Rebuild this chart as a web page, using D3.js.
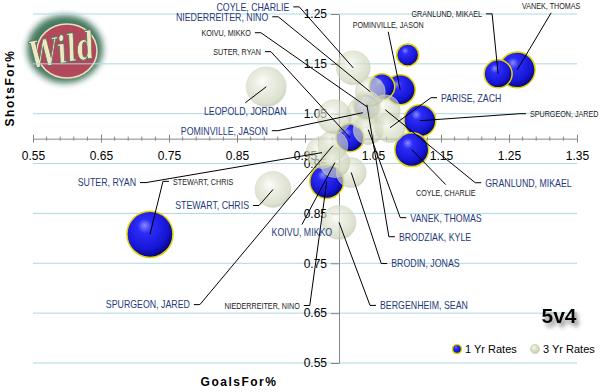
<!DOCTYPE html>
<html>
<head>
<meta charset="utf-8">
<script src="https://cdn.jsdelivr.net/npm/d3@7"></script>
<style>
body { margin: 0; background: #fff; }
svg { display: block; font-family: "Liberation Sans", Arial, sans-serif; }
</style>
</head>
<body>
<div id="chart"></div>
<script>
// 5v4 GoalsFor% vs ShotsFor% -- 1 yr and 3 yr rates

var xTicks = [0.55, 0.65, 0.75, 0.85, 0.95, 1.05, 1.15, 1.25, 1.35];
var yTicks = [0.55, 0.65, 0.75, 0.85, 0.95, 1.05, 1.15, 1.25];

// 1 Yr Rates
var names1 = ["VANEK, THOMAS", "GRANLUND, MIKAEL", "POMINVILLE, JASON", "SPURGEON, JARED", "COYLE, CHARLIE",
  "KOIVU, MIKKO", "SUTER, RYAN", "STEWART, CHRIS", "NIEDERREITER, NINO", "unlabelled a", "unlabelled b"];
var goals1 = [1.262, 1.234, 1.090, 1.119, 1.107, 1.041, 1.016, 0.722, 0.982, 1.101, 1.063];
var shots1 = [1.138, 1.130, 1.098, 1.036, 0.978, 1.064, 1.002, 0.808, 0.914, 1.168, 1.104];
var size1  = [56, 34, 39, 44, 50, 29, 34, 92, 50, 21, 29];

// 3 Yr Rates
var names3 = ["LEOPOLD, JORDAN", "STEWART, CHRIS", "BERGENHEIM, SEAN", "COYLE, CHARLIE", "BRODIN, JONAS",
  "SUTER, RYAN", "SPURGEON, JARED", "KOIVU, MIKKO", "POMINVILLE, JASON", "VANEK, THOMAS",
  "BRODZIAK, KYLE", "GRANLUND, MIKAEL", "PARISE, ZACH", "NIEDERREITER, NINO", "unlabelled c"];
var goals3 = [0.893, 0.903, 1.000, 1.021, 1.018, 0.975, 0.991, 0.994, 1.035, 1.043, 1.041, 1.068, 1.075, 1.046, 0.993];
var shots3 = [1.104, 0.898, 0.832, 1.142, 0.932, 0.972, 0.986, 0.952, 1.052, 1.018, 1.068, 1.058, 1.022, 1.094, 1.044];
var size3  = [69, 56, 50, 50, 39, 44, 39, 39, 44, 39, 34, 39, 39, 39, 50];

// label placement: offset from the bubble centre (px) and text anchor
var place1 = {
  "VANEK, THOMAS": [34, -64, "middle"], "GRANLUND, MIKAEL": [-16, -60, "end"],
  "POMINVILLE, JASON": [-12, -65, "middle"], "SPURGEON, JARED": [110, -7, "start"],
  "COYLE, CHARLIE": [34, 43, "middle"], "KOIVU, MIKKO": [-116, -74, "end"],
  "SUTER, RYAN": [-89, -86, "end"], "STEWART, CHRIS": [23, -53, "start"],
  "NIEDERREITER, NINO": [-27, 124, "end"]
};
var place3 = {
  "COYLE, CHARLIE": [-64, -61, "end"], "NIEDERREITER, NINO": [-102, -75, "end"],
  "LEOPOLD, JORDAN": [-21, 24, "middle"], "POMINVILLE, JASON": [-95, 18, "end"],
  "PARISE, ZACH": [51, -30, "start"], "GRANLUND, MIKAEL": [100, 73, "start"],
  "SPURGEON, JARED": [-143, 159, "end"], "SUTER, RYAN": [-186, 30, "end"],
  "STEWART, CHRIS": [-24, 16, "end"], "KOIVU, MIKKO": [-33, 70, "middle"],
  "VANEK, THOMAS": [42, 88, "start"], "BRODZIAK, KYLE": [32, 132, "start"],
  "BRODIN, JONAS": [40, 91, "start"], "BERGENHEIM, SEAN": [41, 83, "start"]
};

var w = 603;
var h = 392;

var x = d3.scaleLinear().domain([0.55, 1.35]).range([33, 577]);
var y = d3.scaleLinear().domain([0.55, 1.25]).range([363, 14]);
var r = d3.scaleSqrt().domain([0, 100]).range([0, 24]);

var svg = d3.select("#chart")
  .append("svg")
  .attr("width", w)
  .attr("height", h);

var defs = svg.append("defs");

var gBlue = defs.append("radialGradient").attr("id", "blueBall")
  .attr("cx", "42%").attr("cy", "38%").attr("r", "62%").attr("fx", "38%").attr("fy", "30%");
gBlue.append("stop").attr("offset", "0%").attr("stop-color", "#8a8aff");
gBlue.append("stop").attr("offset", "25%").attr("stop-color", "#2c2cf8");
gBlue.append("stop").attr("offset", "75%").attr("stop-color", "#1616d6");
gBlue.append("stop").attr("offset", "100%").attr("stop-color", "#06067e");

var gGrey = defs.append("radialGradient").attr("id", "greyBall")
  .attr("cx", "45%").attr("cy", "42%").attr("r", "60%").attr("fx", "40%").attr("fy", "35%");
gGrey.append("stop").attr("offset", "0%").attr("stop-color", "#fbfcf6");
gGrey.append("stop").attr("offset", "35%").attr("stop-color", "#e2e6d4");
gGrey.append("stop").attr("offset", "85%").attr("stop-color", "#cbd2b8");
gGrey.append("stop").attr("offset", "100%").attr("stop-color", "#b3bb9c");

var shadow = defs.append("filter").attr("id", "shadow")
  .attr("x", "-30%").attr("y", "-30%").attr("width", "160%").attr("height", "160%");
shadow.append("feDropShadow").attr("dx", 3).attr("dy", 4).attr("stdDeviation", 2)
  .attr("flood-color", "#555").attr("flood-opacity", 0.7);

var soft = defs.append("filter").attr("id", "soft")
  .attr("x", "-30%").attr("y", "-30%").attr("width", "160%").attr("height", "160%");
soft.append("feGaussianBlur").attr("stdDeviation", 3);

// logo (rough)
var logo = svg.append("g").attr("opacity", 0.82);
logo.append("ellipse").attr("cx", 65).attr("cy", 49).attr("rx", 38).attr("ry", 34)
  .style("fill", "#1f5b3c").attr("filter", "url(#soft)");
logo.append("ellipse").attr("cx", 67).attr("cy", 51).attr("rx", 30).attr("ry", 27)
  .style("fill", "#a3213a").style("stroke", "#e6dcb0").style("stroke-width", 1.5);
logo.append("text")
  .attr("text-anchor", "middle")
  .attr("transform", "translate(64,63) rotate(-10) scale(0.85,1.25)")
  .style("font-family", "'DejaVu Serif', serif")
  .style("font-style", "italic").style("font-weight", "bold")
  .style("font-size", "30px")
  .style("fill", "#efe4b6").style("stroke", "#2c5a3c").style("stroke-width", 0.8)
  .text("Wild");

// gridlines
svg.append("g").selectAll("line")
  .data(yTicks)
  .enter()
  .append("line")
  .attr("x1", x(0.55)).attr("x2", x(1.35))
  .attr("y1", function(d) { return y(d); })
  .attr("y2", function(d) { return y(d); })
  .style("stroke", "#acd9e3")
  .style("stroke-width", 1);

// x axis crosses at 1.0
var xAxis = svg.append("g")
  .attr("transform", "translate(0," + y(1.0) + ")")
  .call(d3.axisBottom(x).tickValues(xTicks).tickSizeInner(4).tickSizeOuter(0).tickPadding(9)
    .tickFormat(d3.format(".2f")));
xAxis.selectAll(".tick line").attr("y1", -4).attr("y2", 4);

var minor = d3.range(0.57, 1.35, 0.02).filter(function(v) {
  return Math.abs(((v - 0.55) / 0.1) - Math.round((v - 0.55) / 0.1)) > 0.01;
});
xAxis.selectAll(".minor")
  .data(minor)
  .enter()
  .append("line")
  .attr("x1", function(d) { return x(d); })
  .attr("x2", function(d) { return x(d); })
  .attr("y1", -2).attr("y2", 2)
  .style("stroke", "#868686");

// y axis crosses at 1.0
var yAxis = svg.append("g")
  .attr("transform", "translate(" + x(1.0) + ",0)")
  .call(d3.axisLeft(y).tickValues(yTicks).tickSizeInner(8).tickSizeOuter(0).tickPadding(4)
    .tickFormat(d3.format(".2f")));

svg.selectAll(".domain, .tick line").style("stroke", "#868686");
svg.selectAll(".tick text").style("font-size", "12px").style("fill", "#000")
  .style("font-family", "'Liberation Sans', Arial, sans-serif");

// axis titles
svg.append("text")
  .attr("x", 239).attr("y", 386)
  .attr("text-anchor", "middle")
  .style("font-weight", "bold").style("font-size", "12px").style("letter-spacing", "1.5px")
  .text("GoalsFor%");

svg.append("text")
  .attr("transform", "translate(14,88) rotate(-90)")
  .attr("text-anchor", "middle")
  .style("font-weight", "bold").style("font-size", "12px").style("letter-spacing", "1.5px")
  .text("ShotsFor%");

// bubbles
var one = names1.map(function(n, i) { return { name: n, gx: goals1[i], sy: shots1[i], s: size1[i] }; });
var three = names3.map(function(n, i) { return { name: n, gx: goals3[i], sy: shots3[i], s: size3[i] }; });

svg.append("g").selectAll("circle")
  .data(one)
  .enter()
  .append("circle")
  .attr("cx", function(d) { return x(d.gx); })
  .attr("cy", function(d) { return y(d.sy); })
  .attr("r", function(d) { return r(d.s); })
  .style("fill", "url(#blueBall)")
  .style("stroke", "#e3d400")
  .style("stroke-width", 1.5);

svg.append("g").selectAll("circle")
  .data(three)
  .enter()
  .append("circle")
  .attr("cx", function(d) { return x(d.gx); })
  .attr("cy", function(d) { return y(d.sy); })
  .attr("r", function(d) { return r(d.s); })
  .style("fill", "url(#greyBall)")
  .style("fill-opacity", 0.66)
  .style("stroke", "#d0d6c2")
  .style("stroke-opacity", 0.5);

// data labels with leader lines (text squeezed to mimic a narrow face)
function drawLabels(data, place, colour, size) {
  var g = svg.append("g");
  data.forEach(function(d) {
    var p = place[d.name];
    if (!p) return;
    var cx = x(d.gx), cy = y(d.sy);
    var tx = cx + p[0], ty = cy + p[1];
    var pts;
    if (p[2] === "end") {
      pts = [[tx + 4, ty], [tx + 10, ty], [cx, cy]];
    } else if (p[2] === "start") {
      pts = [[tx - 4, ty], [tx - 10, ty], [cx, cy]];
    } else {
      var ay = cy > ty ? ty + 7 : ty - 8;
      pts = [[tx, ay], [cx, cy]];
    }
    g.append("path")
      .attr("d", d3.line()(pts))
      .style("fill", "none")
      .style("stroke", "#000")
      .style("stroke-width", 1);
    g.append("text")
      .attr("transform", "translate(" + tx + "," + ty + ") scale(0.8,1)")
      .attr("dy", "0.35em")
      .attr("text-anchor", p[2])
      .style("font-size", size)
      .style("fill", colour)
      .text(d.name);
  });
}
drawLabels(one, place1, "#1a1a1a", "9px");
drawLabels(three, place3, "#1f3a7c", "11px");

// legend
var legend = svg.append("g");
legend.append("circle").attr("cx", 457).attr("cy", 349).attr("r", 4.5)
  .style("fill", "url(#blueBall)").style("stroke", "#e3d400").style("stroke-width", 1.5);
legend.append("text").attr("x", 465).attr("y", 349).attr("dy", "0.35em")
  .style("font-size", "11px").text("1 Yr Rates");
legend.append("circle").attr("cx", 535).attr("cy", 349).attr("r", 4.5)
  .style("fill", "url(#greyBall)").style("stroke", "#d0d6c2");
legend.append("text").attr("x", 543).attr("y", 349).attr("dy", "0.35em")
  .style("font-size", "11px").text("3 Yr Rates");

// situation tag
svg.append("text")
  .attr("x", 559).attr("y", 323)
  .attr("text-anchor", "middle")
  .attr("filter", "url(#shadow)")
  .style("font-weight", "bold").style("font-size", "21px")
  .text("5v4");
</script>
</body>
</html>
